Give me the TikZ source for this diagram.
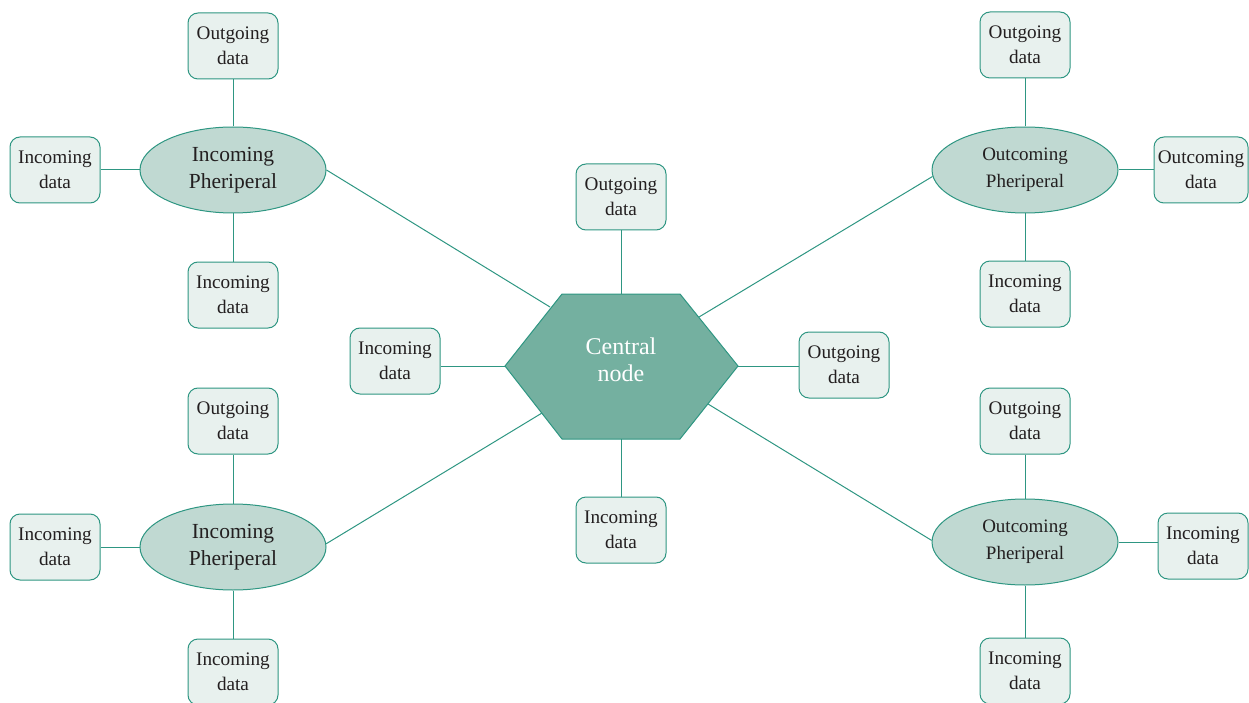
\documentclass[tikz,border=0pt]{standalone}
\usepackage{fontspec}
\setmainfont{Liberation Serif}
\usetikzlibrary{shapes.geometric}
\definecolor{tline}{RGB}{46,150,130}
\definecolor{hexfill}{RGB}{116,176,160}
\definecolor{ellfill}{RGB}{192,217,210}
\definecolor{boxfill}{RGB}{232,241,238}
\definecolor{txt}{RGB}{35,31,32}
\tikzset{
  databox/.style={draw=tline, fill=boxfill, rounded corners=10pt, line width=1pt,
    minimum width=90pt, minimum height=66pt, align=center, inner sep=2pt,
    text=txt, font=\fontsize{19.2}{25}\selectfont},
  periph/.style={ellipse, draw=tline, fill=ellfill, line width=1pt,
    minimum width=186pt, minimum height=86pt, inner sep=0pt, align=center,
    text=txt},
  bigp/.style={periph, font=\fontsize{21.5}{27}\selectfont},
  smallp/.style={periph, font=\fontsize{19}{27}\selectfont},
  conn/.style={draw=tline, line width=1pt}
}
\begin{document}
\begin{tikzpicture}[x=1pt,y=-1pt]
\useasboundingbox (0,0) rectangle (1249,703);
% central hexagon
\fill[hexfill, draw=tline, line width=1pt] (505,366) -- (562,294) -- (680,294) -- (738,366) -- (680,439) -- (562,439) -- cycle;
\node[text=white, align=center, font=\fontsize{24}{27}\selectfont] (c) at (621,360) {Central\\node};
\coordinate (hT) at (621,294);
\coordinate (hB) at (621,439);
\coordinate (hL) at (505,366);
\coordinate (hR) at (738,366);
\coordinate (h1) at (550,307);
\coordinate (h2) at (699,317);
\coordinate (h3) at (542,413);
\coordinate (h4) at (708,404);

% central boxes
\node[databox] (cT) at (621,197) {Outgoing\\data};
\node[databox] (cL) at (395,361) {Incoming\\data};
\node[databox] (cR) at (844,365) {Outgoing\\data};
\node[databox] (cB) at (621,530) {Incoming\\data};

% top-left
\node[bigp] (tlE) at (233,170) {Incoming\\Pheriperal};
\node[databox] (tlT) at (233,46) {Outgoing\\data};
\node[databox] (tlL) at (55,170) {Incoming\\data};
\node[databox] (tlB) at (233,295) {Incoming\\data};

% bottom-left
\node[bigp] (blE) at (233,547) {Incoming\\Pheriperal};
\node[databox] (blT) at (233,421) {Outgoing\\data};
\node[databox] (blL) at (55,547) {Incoming\\data};
\node[databox] (blB) at (233,672) {Incoming\\data};

% top-right
\node[smallp] (trE) at (1025,170) {Outcoming\\Pheriperal};
\node[databox] (trT) at (1025,45) {Outgoing\\data};
\node[databox, minimum width=94pt] (trR) at (1201,170) {Outcoming\\data};
\node[databox] (trB) at (1025,294) {Incoming\\data};

% bottom-right
\node[smallp] (brE) at (1025,542) {Outcoming\\Pheriperal};
\node[databox] (brT) at (1025,421) {Outgoing\\data};
\node[databox] (brR) at (1203,546) {Incoming\\data};
\node[databox] (brB) at (1025,671) {Incoming\\data};

% connectors
\path[conn] (cT.south) -- (hT);
\path[conn] (cB.north) -- (hB);
\path[conn] (hL) -- (hL -| cL.east);
\path[conn] (hR) -- (hR -| cR.west);
\path[conn] (tlE.east) -- (h1);
\path[conn] (trE.184) -- (h2);
\path[conn] (blE.2.5) -- (h3);
\path[conn] (brE.179) -- (h4);

\path[conn] (tlT.south) -- (tlE.north);
\path[conn] (tlL.east) -- (tlE.west);
\path[conn] (tlB.north) -- (tlE.south);
\path[conn] (blT.south) -- (blE.north);
\path[conn] (blL.east) -- (blE.west);
\path[conn] (blB.north) -- (blE.south);
\path[conn] (trT.south) -- (trE.north);
\path[conn] (trR.west) -- (trE.east);
\path[conn] (trB.north) -- (trE.south);
\path[conn] (brT.south) -- (brE.north);
\path[conn] (brE.east) -- (brE.east -| brR.west);
\path[conn] (brB.north) -- (brE.south);
\end{tikzpicture}
\end{document}
